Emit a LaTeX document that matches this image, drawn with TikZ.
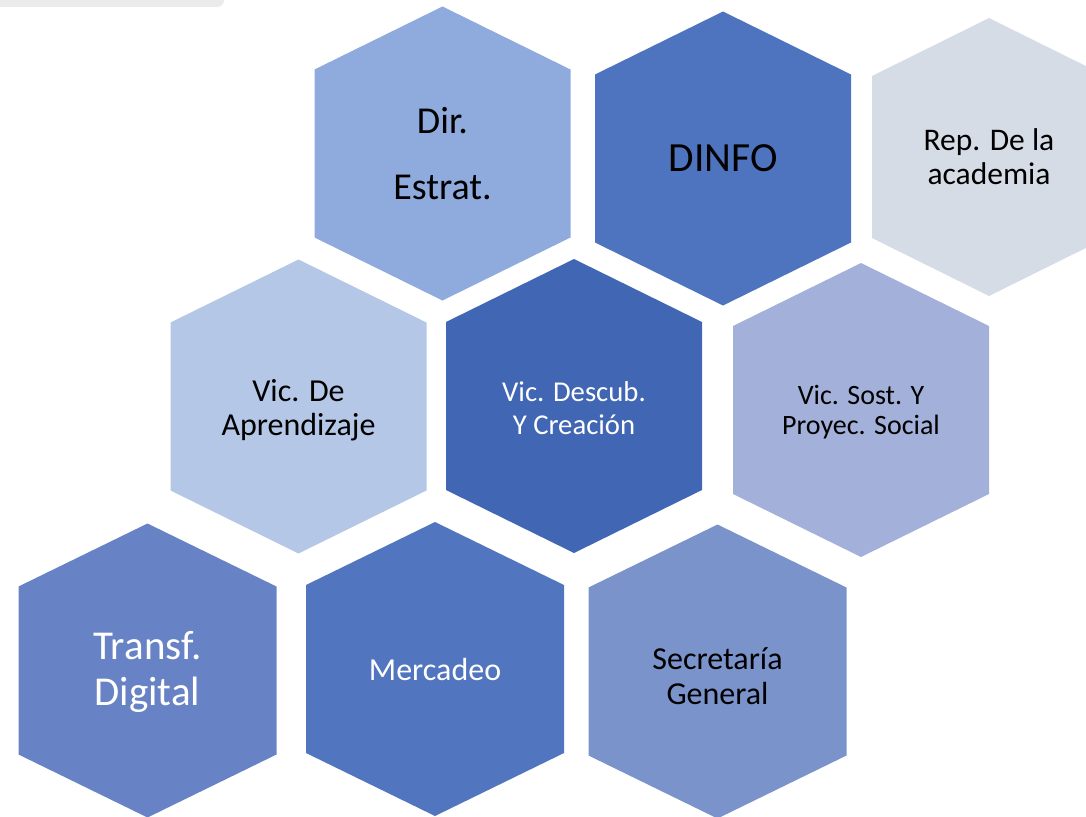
\documentclass[tikz,border=0pt]{standalone}
\usepackage{fontspec}
\setmainfont{Carlito}
\definecolor{topgray}{HTML}{EBEBEB}
\definecolor{cdir}{HTML}{8FAADC}
\definecolor{cdinfo}{HTML}{4F74BF}
\definecolor{crep}{HTML}{D6DCE5}
\definecolor{cvica}{HTML}{B4C7E7}
\definecolor{cvicd}{HTML}{4167B4}
\definecolor{cvics}{HTML}{A3B1DA}
\definecolor{ctransf}{HTML}{6783C5}
\definecolor{cmerc}{HTML}{5175BF}
\definecolor{csec}{HTML}{7A93CB}
\newcommand{\hexfill}[6]{%
  \fill[#6] (#1,#2) +(0,-#4) -- +(#3,-#5) -- +(#3,#5) -- +(0,#4) -- +(-#3,#5) -- +(-#3,-#5) -- cycle;}
\tikzset{lbl/.style={align=center, inner sep=0pt}}
\begin{document}
\begin{tikzpicture}[x=1pt,y=-1pt]
\useasboundingbox (0,0) rectangle (1086,816);
\clip (0,0) rectangle (1086,816);
\fill[topgray, rounded corners=7pt] (-20,-20) rectangle (224,7);
% hexagons
\hexfill{442.5}{153.5}{128}{147}{84}{cdir}
\hexfill{723}{158.5}{128}{147}{84}{cdinfo}
\hexfill{989}{157}{117}{139}{81}{crep}
\hexfill{298.5}{406.5}{128}{147}{84}{cvica}
\hexfill{574}{406}{128}{147}{84}{cvicd}
\hexfill{861}{410}{128}{147}{84}{cvics}
\hexfill{147.5}{670.5}{129}{147}{84}{ctransf}
\hexfill{435}{669}{129}{147}{84}{cmerc}
\hexfill{717.5}{671.5}{129}{147}{84}{csec}
% labels
\node[lbl, text=black, font=\fontsize{38}{66}\selectfont] (dir) at (442.5,154) {Dir.\\Estrat.};
\node[lbl, text=black, font=\fontsize{41.5}{48}\selectfont] (dinfo) at (723,158) {DINFO};
\node[lbl, text=black, font=\fontsize{31.5}{34}\selectfont] (rep) at (989,157) {Rep. De la\\academia};
\node[lbl, text=black, font=\fontsize{32}{34}\selectfont] (vica) at (298.5,410) {Vic. De\\Aprendizaje};
\node[lbl, text=white, font=\fontsize{28.7}{33}\selectfont] (vicd) at (574,408) {Vic. Descub.\\Y Creación};
\node[lbl, text=black, font=\fontsize{28}{30}\selectfont] (vics) at (861,412) {Vic. Sost. Y\\Proyec. Social};
\node[lbl, text=white, font=\fontsize{41}{46}\selectfont] (transf) at (147.5,672) {Transf.\\Digital};
\node[lbl, text=white, font=\fontsize{32}{38}\selectfont] (merc) at (435,669) {Mercadeo};
\node[lbl, text=black, font=\fontsize{32}{35}\selectfont] (sec) at (717.5,676) {Secretaría\\General};
\end{tikzpicture}
\end{document}
